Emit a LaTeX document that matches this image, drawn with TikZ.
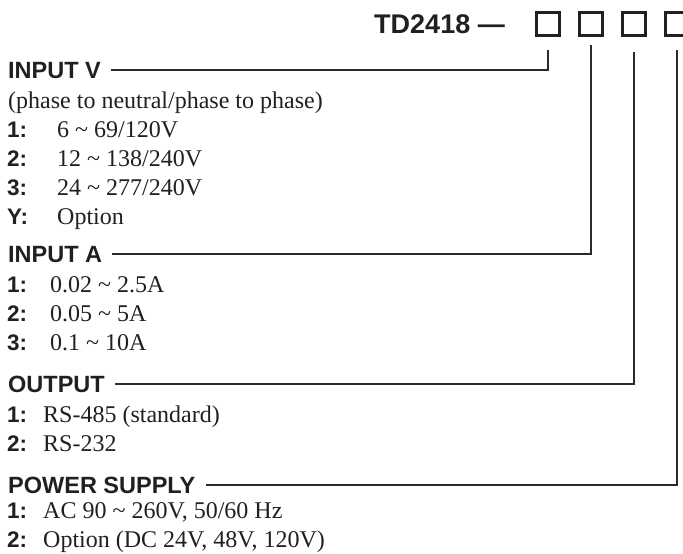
\documentclass[tikz,border=0pt]{standalone}
\usepackage{fontspec}
\setmainfont{Liberation Serif}
\setsansfont{Liberation Sans}
\usetikzlibrary{positioning,calc}
\definecolor{ink}{HTML}{231F20}
\definecolor{rulec}{HTML}{2B2B2B}

\begin{document}
\begin{tikzpicture}[x=1pt,y=-1pt,
    head/.style={anchor=base west,inner sep=0pt,font=\fontsize{23.5}{28}\selectfont\sffamily\bfseries,text=ink},
    key/.style={anchor=base west,inner sep=0pt,font=\fontsize{22.5}{27}\selectfont\sffamily\bfseries,text=ink},
    val/.style={anchor=base west,inner sep=0pt,font=\fontsize{24}{29}\selectfont,text=ink},
    slot/.style={draw=ink,line width=2.8pt,minimum size=23.5pt,inner sep=0pt},
    lead/.style={draw=rulec,line width=2pt}]
    \useasboundingbox (0,0) rectangle (683,554);
    % model code and its four slots
    \node[anchor=base east,inner sep=0pt,font=\fontsize{27}{32}\selectfont\sffamily\bfseries,text=ink] (code) at (505,33) {TD2418 —};
    \node[slot] (s1) at (548,24) {};
    \node[slot] (s2) at (591,24) {};
    \node[slot] (s3) at (634,24) {};
    \node[slot] (s4) at (677,24) {};
    % input voltage
    \node[head] (hv) at (8,78) {INPUT V};
    \node[val] (vnote) at (8,108) {(phase to neutral/phase to phase)};
    \node[key] (vk1) at (7,137) {1:};
    \node[val] (vv1) at (57,137) {6 \char`\~{} 69/120V};
    \node[key] (vk2) at (7,166) {2:};
    \node[val] (vv2) at (57,166) {12 \char`\~{} 138/240V};
    \node[key] (vk3) at (7,195) {3:};
    \node[val] (vv3) at (57,195) {24 \char`\~{} 277/240V};
    \node[key] (vk4) at (7,224) {Y:};
    \node[val] (vv4) at (57,224) {Option};
    % input current
    \node[head] (ha) at (8,262) {INPUT A};
    \node[key] (ak1) at (7,292) {1:};
    \node[val] (av1) at (50,292) {0.02 \char`\~{} 2.5A};
    \node[key] (ak2) at (7,321) {2:};
    \node[val] (av2) at (50,321) {0.05 \char`\~{} 5A};
    \node[key] (ak3) at (7,350) {3:};
    \node[val] (av3) at (50,350) {0.1 \char`\~{} 10A};
    % output
    \node[head] (ho) at (8,392) {OUTPUT};
    \node[key] (ok1) at (7,422) {1:};
    \node[val] (ov1) at (43,422) {RS-485 (standard)};
    \node[key] (ok2) at (7,451) {2:};
    \node[val] (ov2) at (43,451) {RS-232};
    % power supply
    \node[head] (hp) at (8,493) {POWER SUPPLY};
    \node[key] (pk1) at (7,518) {1:};
    \node[val] (pv1) at (43,518) {AC 90 \char`\~{} 260V, 50/60 Hz};
    \node[key] (pk2) at (7,547) {2:};
    \node[val] (pv2) at (43,547) {Option (DC 24V, 48V, 120V)};
    % leader lines to the slots
    \draw[lead] ([xshift=10pt]hv.east) -| ([yshift=-13pt]s1.south);
    \draw[lead] ([xshift=10pt]ha.east) -| ([yshift=-8pt]s2.south);
    \draw[lead] ([xshift=10pt]ho.east) -| ([yshift=-15pt]s3.south);
    \draw[lead] ([xshift=10pt]hp.east) -| ([yshift=-13pt]s4.south);
\end{tikzpicture}
\end{document}
